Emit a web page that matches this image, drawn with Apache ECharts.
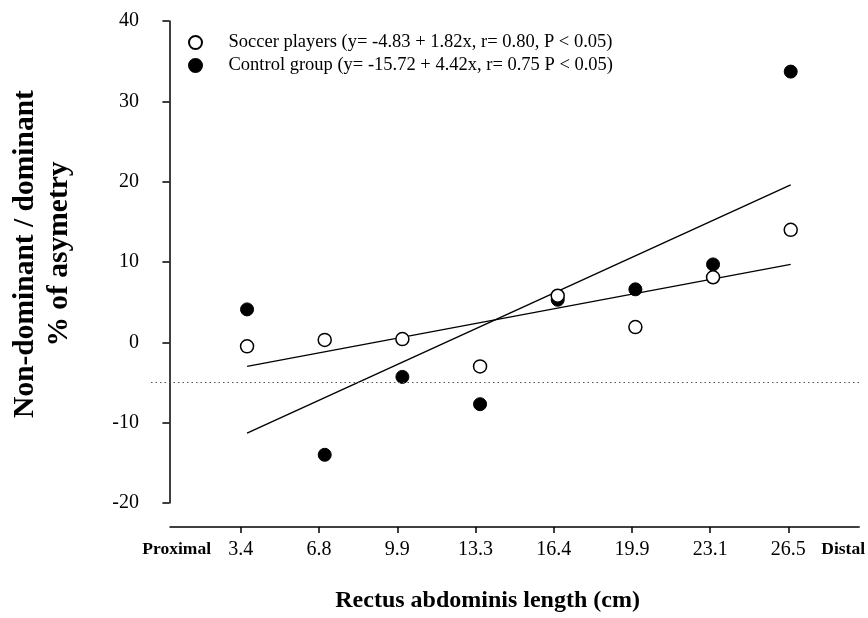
<!DOCTYPE html>
<html>
<head>
<meta charset="utf-8">
<script src="https://cdn.jsdelivr.net/npm/echarts@6/dist/echarts.min.js"></script>
<style>
  html, body { margin: 0; padding: 0; background: #fff; }
  #chart { width: 868px; height: 618px; }
</style>
</head>
<body>
<div id="chart"></div>
<script>
// muscle length sites (cm), plotted at evenly spaced positions
const lengths = ['3.4', '6.8', '9.9', '13.3', '16.4', '19.9', '23.1', '26.5'];
const positions = [1, 2, 3, 4, 5, 6, 7, 8];
// % of asymmetry
const soccer = [-0.5, 0.3, 0.4, -3.0, 5.8, 1.9, 8.1, 14.0];
const control = [4.1, -14.0, -4.3, -7.7, 5.3, 6.6, 9.7, 33.7];
// regression line ends, read at the first and last site
const fitEnds = [1, 8];
const soccerFit = [-3.0, 9.7];
const controlFit = [-11.3, 19.6];
const refLevel = -5;
const yTicks = [-20, -10, 0, 10, 20, 30, 40];

const soccerName = 'Soccer players (y= -4.83 + 1.82x, r= 0.80, P < 0.05)';
const controlName = 'Control group (y= -15.72 + 4.42x, r= 0.75 P < 0.05)';

const font = 'Liberation Serif, Times New Roman, serif';
const chart = echarts.init(document.getElementById('chart'));

const option = {
  backgroundColor: '#fff',
  animation: false,
  textStyle: { fontFamily: font, color: '#000' },
  legend: {
    orient: 'vertical',
    left: 188,
    top: 33,
    padding: 0,
    itemWidth: 56,
    itemHeight: 13,
    itemGap: 4,
    data: [soccerName, controlName],
    textStyle: { fontFamily: font, fontSize: 18.5, lineHeight: 18, color: '#000' }
  },
  grid: [
    { left: 144, right: 7, top: 21, height: 482 },
    { left: 170, right: 7, top: 526, height: 1 }
  ],
  xAxis: [
    { gridIndex: 0, type: 'value', min: -0.2368, max: 8.905, show: false },
    {
      gridIndex: 1,
      type: 'value',
      min: 0.0947,
      max: 8.905,
      name: 'Rectus abdominis length (cm)',
      nameLocation: 'middle',
      nameGap: 62,
      nameTextStyle: { fontFamily: font, fontSize: 24, fontWeight: 'bold', color: '#000', padding: [0, 54, 0, 0] },
      axisLine: { lineStyle: { color: '#000', width: 1.5 } },
      axisTick: { length: 6, lineStyle: { color: '#000', width: 1.5 }, customValues: positions },
      axisLabel: {
        customValues: [0.18].concat(positions, [8.7]),
        margin: 13,
        fontFamily: font,
        fontSize: 20,
        color: '#000',
        formatter: function (v) {
          const i = positions.indexOf(v);
          if (i >= 0) return lengths[i];
          return v < 1 ? '{e|Proximal}' : '{e|Distal}';
        },
        rich: { e: { fontFamily: font, fontSize: 17.5, fontWeight: 'bold', color: '#000', padding: [0, 0, 2, 0] } }
      },
      splitLine: { show: false }
    }
  ],
  yAxis: [
    {
      gridIndex: 0,
      type: 'value',
      min: -20,
      max: 40,
      interval: 10,
      name: 'Non-dominant / dominant\n% of asymetry',
      nameLocation: 'middle',
      nameGap: 75,
      nameTextStyle: { fontFamily: font, fontSize: 29.5, fontWeight: 'bold', color: '#000', lineHeight: 34, padding: [0, 0, 0, 16] },
      axisLine: { show: true, lineStyle: { color: '#000', width: 1.5 } },
      axisTick: { show: true, length: 7, lineStyle: { color: '#000', width: 1.5 } },
      axisLabel: {
        margin: 12,
        fontFamily: font,
        fontSize: 20,
        color: '#000',
        formatter: function (v) { return yTicks.indexOf(v) >= 0 ? String(v) : ''; }
      },
      splitLine: { show: false }
    },
    { gridIndex: 1, type: 'value', show: false }
  ],
  series: [
    {
      type: 'line',
      xAxisIndex: 0, yAxisIndex: 0,
      data: fitEnds.map((x, i) => [x, controlFit[i]]),
      symbol: 'none',
      lineStyle: { color: '#000', width: 1.4 },
      z: 1,
      markLine: {
        silent: true,
        symbol: 'none',
        label: { show: false },
        lineStyle: { color: '#555', width: 1.2, type: [1.5, 3] },
        data: [{ yAxis: refLevel }]
      }
    },
    {
      type: 'line',
      xAxisIndex: 0, yAxisIndex: 0,
      data: fitEnds.map((x, i) => [x, soccerFit[i]]),
      symbol: 'none',
      lineStyle: { color: '#000', width: 1.4 },
      z: 1
    },
    {
      name: controlName,
      type: 'scatter',
      xAxisIndex: 0, yAxisIndex: 0,
      data: positions.map((x, i) => [x, control[i]]),
      symbol: 'circle',
      symbolSize: 13,
      itemStyle: { color: '#000', borderColor: '#000', borderWidth: 1, opacity: 1 },
      z: 3
    },
    {
      name: soccerName,
      type: 'scatter',
      xAxisIndex: 0, yAxisIndex: 0,
      data: positions.map((x, i) => [x, soccer[i]]),
      symbol: 'circle',
      symbolSize: 13,
      itemStyle: { color: '#fff', borderColor: '#000', borderWidth: 1.5, opacity: 1 },
      z: 4
    }
  ]
};

chart.setOption(option);
</script>
</body>
</html>
